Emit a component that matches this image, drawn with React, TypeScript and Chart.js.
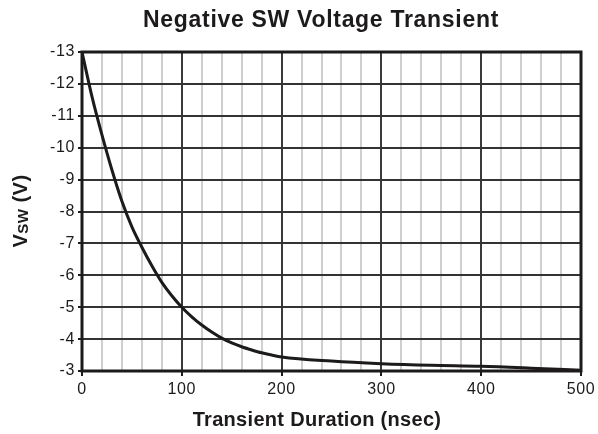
import React, { useEffect, useRef } from "react";
import { Chart, registerables } from "chart.js";

Chart.register(...registerables);

const TITLE = "Negative SW Voltage Transient";
const X_TITLE = "Transient Duration (nsec)";
const Y_TITLE_PARTS: [string, number, number][] = [
  ["V", 20, 0],
  ["SW", 15, 1],
  [" (V)", 20, 0],
];

const durationNs = [0, 10, 20, 30, 40, 50, 60, 70, 80, 90, 100, 110, 120, 130, 140, 150, 160, 170, 180, 190, 200, 250, 300, 350, 400, 450, 500];
const vswVolts = [-13, -11.6, -10.4, -9.3, -8.32, -7.52, -6.88, -6.3, -5.78, -5.36, -5.0, -4.7, -4.44, -4.22, -4.03, -3.88, -3.76, -3.66, -3.57, -3.5, -3.44, -3.31, -3.23, -3.18, -3.15, -3.09, -3.02];

const X_MIN = 0;
const X_MAX = 500;
const X_MINOR_STEP = 20;
const X_MAJOR_STEP = 100;
const Y_MIN = -13;
const Y_MAX = -3;
const Y_STEP = 1;

const INK = "#1c1a1b";
const FONT = '"Liberation Sans", Arial, Helvetica, sans-serif';

export default function App() {
  const ref = useRef<HTMLCanvasElement | null>(null);

  useEffect(() => {
    const canvas = ref.current;
    if (!canvas) return;

    const decor = {
      id: "decor",
      beforeDraw(chart: any) {
        chart.ctx.letterSpacing = "0.6px";
      },
      afterDraw(chart: any) {
        const { ctx, chartArea } = chart;
        const { left, top, right, bottom } = chartArea;
        ctx.save();
        ctx.letterSpacing = "0px";
        ctx.strokeStyle = INK;
        ctx.lineWidth = 3;
        ctx.strokeRect(left, top, right - left, bottom - top);

        ctx.fillStyle = INK;
        ctx.textBaseline = "alphabetic";
        ctx.textAlign = "center";
        ctx.font = `bold 23px ${FONT}`;
        ctx.letterSpacing = "0.7px";
        ctx.fillText(TITLE, 321, 27);

        ctx.letterSpacing = "0.3px";
        ctx.font = `bold 20px ${FONT}`;
        ctx.fillText(X_TITLE, 317, 426);

        // y title rotated
        ctx.letterSpacing = "0.5px";
        ctx.textAlign = "left";
        let total = 0;
        for (const [t, s] of Y_TITLE_PARTS) {
          ctx.font = `bold ${s}px ${FONT}`;
          total += ctx.measureText(t).width;
        }
        ctx.translate(27, 211);
        ctx.rotate(-Math.PI / 2);
        let x = -total / 2;
        for (const [t, s, dy] of Y_TITLE_PARTS) {
          ctx.font = `bold ${s}px ${FONT}`;
          ctx.fillText(t, x, dy);
          x += ctx.measureText(t).width;
        }
        ctx.restore();
      },
    };

    const chart = new Chart(canvas, {
      type: "line",
      data: {
        datasets: [
          {
            data: durationNs.map((d, i) => ({ x: d, y: vswVolts[i] })),
            borderColor: INK,
            borderWidth: 3,
            pointRadius: 0,
            cubicInterpolationMode: "monotone",
            fill: false,
          },
        ],
      },
      options: {
        animation: false,
        responsive: false,
        maintainAspectRatio: false,
        layout: { padding: { top: 52, right: 17, left: 0, bottom: 0 } },
        plugins: {
          legend: { display: false },
          title: { display: false },
          tooltip: { enabled: false },
        },
        scales: {
          x: {
            type: "linear",
            min: X_MIN,
            max: X_MAX,
            afterFit(scale: any) {
              scale.height = 63;
              scale.paddingLeft = 0;
              scale.paddingRight = 0;
            },
            ticks: {
              stepSize: X_MINOR_STEP,
              autoSkip: false,
              maxRotation: 0,
              color: INK,
              padding: 4,
              font: { family: FONT, size: 16 },
              callback: (v: any) => (Number(v) % X_MAJOR_STEP === 0 ? String(v) : ""),
            },
            grid: {
              color: (c: any) => (c.tick && c.tick.value % X_MAJOR_STEP === 0 ? "#3a3a3a" : "#cfcfcf"),
              lineWidth: 2,
              tickLength: 5,
              tickColor: (c: any) => (c.tick && c.tick.value % X_MAJOR_STEP === 0 ? INK : "rgba(0,0,0,0)"),
              tickWidth: 2,
            },
            border: { display: false },
          },
          y: {
            type: "linear",
            min: Y_MIN,
            max: Y_MAX,
            reverse: true,
            afterFit(scale: any) {
              scale.width = 82;
              scale.paddingTop = 0;
              scale.paddingBottom = 0;
            },
            ticks: {
              stepSize: Y_STEP,
              color: INK,
              padding: 3,
              font: { family: FONT, size: 16 },
              callback: (v: any) => String(v),
            },
            grid: {
              color: "#333333",
              lineWidth: 2,
              tickLength: 4,
              tickColor: INK,
              tickWidth: 2,
            },
            border: { display: false },
          },
        },
      },
      plugins: [decor],
    } as any);

    return () => chart.destroy();
  }, []);

  return (
    <div style={{ position: "fixed", left: 0, top: 0, width: 598, height: 434, background: "#fff" }}>
      <canvas ref={ref} width={598} height={434} style={{ width: 598, height: 434, display: "block" }} />
    </div>
  );
}
